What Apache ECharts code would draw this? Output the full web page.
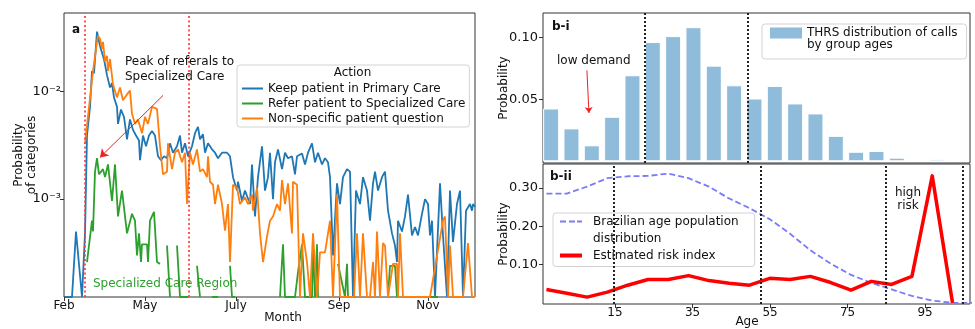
<!DOCTYPE html>
<html>
<head>
<meta charset="utf-8">
<script src="https://cdn.jsdelivr.net/npm/echarts@6/dist/echarts.min.js"></script>
<style>
html, body { margin: 0; background: #fff; }
#main { width: 975px; height: 329px; }
</style>
</head>
<body>
<div id="main"></div>
<script>
// ---- panel a: daily share of each action (x = day index, y = probability, 0 = none that day)
var monthNames = ['Feb', 'May', 'July', 'Sep', 'Nov'];
var monthDays = [0, 81, 172, 275, 364];

var keepPrimary = [[1,0],[8,0],[12,5.0e-4],[18,0],[21,4.8e-4],[23,3.9e-3],[26,7.2e-3],[28,1.55e-2],[30,1.48e-2],[33,3.6e-2],[36,2.65e-2],[38,2.75e-2],[40,2.0e-2],[43,1.42e-2],[46,1.09e-2],[48,1.2e-2],[50,8.8e-3],[53,7.2e-3],[54,5.0e-3],[57,6.8e-3],[60,5.8e-3],[63,3.6e-3],[66,5.5e-3],[69,4.4e-3],[72,3.9e-3],[75,3.5e-3],[76,2.3e-3],[79,3.9e-3],[82,3.1e-3],[85,3.9e-3],[88,4.3e-3],[91,3.9e-3],[94,2.5e-3],[97,2.3e-3],[100,2.5e-3],[103,2.4e-3],[106,3.3e-3],[109,2.7e-3],[113,3.1e-3],[116,3.9e-3],[118,2.7e-3],[121,3.3e-3],[124,2.5e-3],[128,3.1e-3],[131,4.1e-3],[134,4.7e-3],[136,3.6e-3],[139,4.0e-3],[141,2.7e-3],[144,3.3e-3],[148,2.9e-3],[151,2.7e-3],[154,2.4e-3],[158,2.7e-3],[163,2.7e-3],[166,2.5e-3],[169,1.6e-3],[173,1.2e-3],[174,1.45e-3],[178,9.6e-4],[181,1.2e-3],[186,9.0e-4],[188,2.1e-3],[191,6.9e-4],[194,1.6e-3],[198,3.1e-3],[201,1.2e-3],[204,1.6e-3],[206,2.7e-3],[209,1.0e-3],[211,2.2e-3],[214,2.9e-3],[218,1.9e-3],[221,2.7e-3],[224,2.4e-3],[228,2.5e-3],[231,1.7e-3],[233,2.5e-3],[238,2.65e-3],[241,2.1e-3],[244,2.7e-3],[248,3.3e-3],[251,2.2e-3],[254,2.7e-3],[258,2.1e-3],[261,2.4e-3],[264,2.2e-3],[266,1.6e-3],[269,3.0e-4],[273,1.4e-3],[276,9.0e-4],[279,1.6e-3],[283,1.9e-3],[286,1.8e-3],[289,0],[292,1.2e-3],[296,9.0e-4],[299,1.6e-3],[303,1.2e-3],[306,6.3e-4],[309,1.4e-3],[311,1.8e-3],[314,1.2e-3],[318,1.6e-3],[321,1.8e-3],[324,7.8e-4],[328,4.8e-4],[331,3.7e-4],[333,2.6e-4],[334,6.3e-4],[338,5.0e-4],[341,6.9e-4],[344,1.1e-3],[348,4.6e-4],[351,5.5e-4],[354,4.6e-4],[358,7.3e-4],[361,1.0e-3],[364,9.0e-4],[366,4.6e-4],[368,6.3e-4],[371,0],[376,1.4e-3],[379,4.6e-4],[383,0],[386,1.2e-3],[389,4.0e-4],[393,9.0e-4],[396,1.2e-3],[399,0],[402,7.8e-4],[404,7.8e-4],[406,9.0e-4],[408,7.8e-4],[409,9.0e-4],[411,8.5e-4]];

var referSpecial = [[23,2.6e-4],[28,6.3e-4],[29,5.0e-4],[31,1.8e-3],[33,2.4e-3],[35,1.7e-3],[39,1.9e-3],[41,1.6e-3],[44,2.1e-3],[48,9.6e-4],[51,2.1e-3],[54,6.9e-4],[58,1.2e-3],[63,4.8e-4],[65,5.0e-4],[68,7.3e-4],[71,6.3e-4],[73,3.0e-4],[75,4.8e-4],[77,2.6e-4],[78,3.8e-4],[83,3.8e-4],[84,2.6e-4],[86,6.3e-4],[90,7.6e-4],[93,2.6e-4],[96,2.5e-4],[98,null],[103,3.7e-4],[106,0],[107,null],[113,3.7e-4],[116,0],[124,0],[125,null],[133,2.4e-4],[136,0],[137,null],[148,0],[154,0],[155,null],[166,2.4e-4],[168,0],[171,0],[172,null],[216,0],[219,3.8e-4],[221,0],[231,0],[234,2.1e-4],[238,3.8e-4],[241,0],[248,0],[249,3.8e-4],[251,0],[253,3.8e-4],[254,0],[256,null],[274,2.5e-4],[281,0],[283,2.5e-4],[284,0],[291,0],[293,null],[324,0],[326,2.4e-4],[331,2.4e-4],[333,0],[335,null],[348,0],[374,0]];

var nonSpecific = [[21,3.3e-3],[29,1.55e-2],[33,2.9e-2],[34,3.3e-2],[36,3.1e-2],[38,2.5e-2],[39,2.9e-2],[41,1.9e-2],[43,2.15e-2],[44,1.55e-2],[46,2.0e-2],[49,1.16e-2],[53,8.8e-3],[56,1.09e-2],[59,8.3e-3],[63,9.4e-3],[66,1.02e-2],[68,6.2e-3],[71,5.0e-3],[74,5.5e-3],[78,4.1e-3],[81,5.8e-3],[84,5.0e-3],[88,7.2e-3],[93,6.9e-3],[96,3.1e-3],[99,1.7e-3],[103,1.8e-3],[104,3.3e-3],[108,1.9e-3],[111,2.7e-3],[114,2.9e-3],[118,2.2e-3],[121,2.7e-3],[123,9.0e-4],[126,2.7e-3],[129,2.1e-3],[133,2.9e-3],[136,1.8e-3],[139,1.9e-3],[143,1.6e-3],[144,2.5e-3],[146,1.45e-3],[149,1.36e-3],[151,9.0e-4],[154,1.36e-3],[158,9.0e-4],[161,5.1e-4],[164,9.0e-4],[166,2.6e-4],[169,1.36e-3],[173,1.28e-3],[176,9.0e-4],[181,1.04e-3],[184,9.0e-4],[188,1.1e-3],[189,7.8e-4],[193,1.28e-3],[196,4.8e-4],[199,2.6e-4],[203,4.5e-4],[206,6.3e-4],[209,6.9e-4],[213,9.0e-4],[216,7.8e-4],[218,1.5e-3],[221,9.0e-4],[224,1.4e-3],[228,4.8e-4],[229,1.45e-3],[233,1.36e-3],[236,0],[239,4.8e-4],[243,2.6e-4],[246,0],[249,4.8e-4],[253,0],[256,3.2e-4],[261,3.2e-4],[266,6.3e-4],[269,0],[273,1.1e-3],[276,0],[290,0],[293,4.8e-4],[296,0],[299,4.8e-4],[303,0],[306,0],[309,2.6e-4],[311,0],[313,5.0e-4],[316,0],[319,3.9e-4],[321,3.7e-4],[324,0],[329,2.5e-4],[333,2.5e-4],[334,0],[336,4.8e-4],[339,0],[366,0],[379,6.3e-4],[381,6.9e-4],[384,0],[386,3.7e-4],[389,0],[399,0],[404,3.9e-4],[408,0],[411,0]];

// ---- panel b-i: calls by age group (20 groups)
var callsByAge = [0.0427, 0.0266, 0.0129, 0.036, 0.0696, 0.0965, 0.1013, 0.1085, 0.0774, 0.0615,
                  0.0508, 0.061, 0.0468, 0.0387, 0.0206, 0.0077, 0.0083, 0.0029, 0.0010, 0.0019];

// ---- panel b-ii: population share and risk index per age group
var brazilPop = [0.285, 0.285, 0.303, 0.325, 0.330, 0.331, 0.337, 0.325, 0.303, 0.272, 0.247,
                 0.218, 0.18, 0.137, 0.102, 0.073, 0.052, 0.035, 0.018, 0.006, 0.0, 0.0];
var riskIndex = [0.035, 0.025, 0.015, 0.028, 0.046, 0.061, 0.061, 0.071, 0.058, 0.051, 0.046,
                 0.064, 0.061, 0.069, 0.053, 0.033, 0.056, 0.048, 0.069, 0.331, 0.0];
var ageTicks = [15, 35, 55, 75, 95];

var FONT = 'DejaVu Sans';
var INK = '#111';
// panel a is drawn on log10 of the probability
var logMinA = -3.91, logMaxA = -1.27;
var decadeTicks = [-3, -2];
var supExp = {'-1': '⁻¹', '-2': '⁻²', '-3': '⁻³', '-4': '⁻⁴'};

function toLog(arr) {
    // zero days sit on the bottom of the axis, null stays a gap
    return arr.map(function (p) {
        if (p[1] === null) return [p[0], '-'];
        return [p[0], p[1] === 0 ? logMinA : Math.log10(p[1])];
    });
}
function indexed(arr) {
    return arr.map(function (v, i) { return [i, v]; });
}

var keepName = 'Keep patient in Primary Care';
var referName = 'Refer patient to Specialized Care';
var nonName = 'Non-specific patient question';
var barName = 'THRS distribution of calls by group ages';
var popName = 'Brazilian age population distribution';
var riskName = 'Estimated risk index';

var dotted = { color: '#222', width: 2, type: [2, 2] };
var axisText = { color: INK, fontFamily: FONT };
var noLine = { show: false, onZero: false };
var lineIcon = 'path://M0,0L0.1,0L0.1,0.1ZM0,6.5L21,6.5L21,8.5L0,8.5ZM21,15L20.9,15L20.9,14.9Z';

var myChart = echarts.init(document.getElementById('main'));

var option = {
    animation: false,
    backgroundColor: '#fff',
    textStyle: { fontFamily: FONT, color: INK },
    grid: [
        { left: 64, top: 13, width: 411, height: 293, show: true, borderColor: '#333', borderWidth: 1 },
        { left: 543, top: 13, width: 427, height: 150, show: true, borderColor: '#333', borderWidth: 1 },
        { left: 543, top: 164, width: 427, height: 143, show: true, borderColor: '#333', borderWidth: 1 }
    ],
    xAxis: [
        {
            gridIndex: 0, type: 'value', min: 0, max: 411,
            name: 'Month', nameLocation: 'middle', nameGap: 15, nameMoveOverlap: false,
            nameTextStyle: { fontSize: 12, color: INK, padding: [0, 0, 0, 27] },
            axisLine: noLine, splitLine: { show: false },
            axisTick: { customValues: monthDays, length: 4, lineStyle: { color: '#333' } },
            axisLabel: Object.assign({
                customValues: monthDays, fontSize: 12, margin: 3,
                formatter: function (v) { return monthNames[monthDays.indexOf(v)]; }
            }, axisText)
        },
        { gridIndex: 1, type: 'value', min: -0.4, max: 20.6, show: false, axisLine: noLine },
        {
            gridIndex: 2, type: 'value', min: -3.58, max: 106.6,
            name: 'Age', nameLocation: 'middle', nameGap: 12, nameMoveOverlap: false,
            nameTextStyle: { fontSize: 12, color: INK, padding: [0, 19, 0, 0] },
            axisLine: noLine, splitLine: { show: false },
            axisTick: { customValues: ageTicks, length: 4, lineStyle: { color: '#333' } },
            axisLabel: Object.assign({ customValues: ageTicks, fontSize: 12, margin: 3 }, axisText)
        },
        { gridIndex: 2, type: 'value', min: -0.17, max: 20.86, show: false, axisLine: noLine }
    ],
    yAxis: [
        {
            gridIndex: 0, type: 'value', min: logMinA, max: logMaxA,
            name: 'Probability\nof categories', nameLocation: 'middle', nameRotate: 90, nameGap: 26,
            nameMoveOverlap: false,
            nameTextStyle: { fontSize: 12, lineHeight: 13, color: INK },
            axisLine: noLine, splitLine: { show: false },
            axisTick: { customValues: decadeTicks, length: 4, lineStyle: { color: '#333' } },
            axisLabel: Object.assign({
                customValues: decadeTicks, fontSize: 13, margin: 3,
                formatter: function (v) { return '10' + supExp[String(Math.round(v))]; }
            }, axisText)
        },
        {
            gridIndex: 1, type: 'value', min: -0.0014, max: 0.12,
            name: 'Probability', nameLocation: 'middle', nameRotate: 90, nameGap: 33, nameMoveOverlap: false,
            nameTextStyle: { fontSize: 12, color: INK },
            axisLine: noLine, splitLine: { show: false },
            axisTick: { customValues: [0.05, 0.1], length: 4, lineStyle: { color: '#333' } },
            axisLabel: Object.assign({
                customValues: [0.05, 0.1], fontSize: 13, margin: 5,
                formatter: function (v) { return v.toFixed(2); }
            }, axisText)
        },
        {
            gridIndex: 2, type: 'value', min: -0.003, max: 0.362,
            name: 'Probability', nameLocation: 'middle', nameRotate: 90, nameGap: 33, nameMoveOverlap: false,
            nameTextStyle: { fontSize: 12, color: INK },
            axisLine: noLine, splitLine: { show: false },
            axisTick: { customValues: [0.1, 0.2, 0.3], length: 4, lineStyle: { color: '#333' } },
            axisLabel: Object.assign({
                customValues: [0.1, 0.2, 0.3], fontSize: 13, margin: 5,
                formatter: function (v) { return v.toFixed(2); }
            }, axisText)
        }
    ],
    legend: [
        {
            data: [
                { name: keepName, icon: lineIcon },
                { name: referName, icon: lineIcon },
                { name: nonName, icon: lineIcon }
            ],
            orient: 'vertical', left: 237, top: 65,
            padding: [16, 4, 1, 5], itemGap: 0, itemWidth: 21, itemHeight: 15,
            selectedMode: false, itemStyle: { borderWidth: 0 },
            textStyle: { fontSize: 12, lineHeight: 15, color: INK },
            backgroundColor: 'rgba(255,255,255,0.8)', borderColor: '#d3d3d3', borderWidth: 1, borderRadius: 3
        },
        {
            data: [{ name: barName, icon: 'path://M0,0L0.1,0L0.1,0.1ZM0,0.5L32,0.5L32,11.5L0,11.5ZM32,24L31.9,24L31.9,23.9Z' }],
            orient: 'vertical', left: 762, top: 24,
            padding: [3, 9, 8, 8], itemWidth: 32, itemHeight: 24,
            selectedMode: false, itemStyle: { borderWidth: 0 },
            formatter: function () { return 'THRS distribution of calls\nby group ages'; },
            textStyle: { fontSize: 12, lineHeight: 12, color: INK },
            backgroundColor: 'rgba(255,255,255,0.8)', borderColor: '#d3d3d3', borderWidth: 1, borderRadius: 3
        },
        {
            data: [
                { name: popName, icon: 'path://M0,0L0.1,0L0.1,0.1ZM0,1.5L6,1.5L6,3.5L0,3.5ZM9,1.5L15,1.5L15,3.5L9,3.5ZM17,1.5L22,1.5L22,3.5L17,3.5ZM28,22L27.9,22L27.9,21.9Z' },
                { name: riskName, icon: 'path://M0,0L0.1,0L0.1,0.1ZM0,9L22,9L22,13L0,13ZM28,22L27.9,22L27.9,21.9Z' }
            ],
            orient: 'vertical', left: 553, top: 213,
            padding: [0, 16, 0, 7], itemGap: -2.5, itemWidth: 28, itemHeight: 22,
            selectedMode: false, itemStyle: { borderWidth: 0 },
            formatter: function (name) { return name === popName ? 'Brazilian age population\ndistribution' : name; },
            textStyle: { fontSize: 12, lineHeight: 17, color: INK },
            backgroundColor: 'rgba(255,255,255,0.8)', borderColor: '#d3d3d3', borderWidth: 1, borderRadius: 3
        }
    ],
    series: [
        {
            name: keepName, type: 'line', xAxisIndex: 0, yAxisIndex: 0,
            data: toLog(keepPrimary), symbol: 'none',
            itemStyle: { color: '#1f77b4' }, lineStyle: { color: '#1f77b4', width: 1.8 }
        },
        {
            name: referName, type: 'line', xAxisIndex: 0, yAxisIndex: 0,
            data: toLog(referSpecial), symbol: 'none', connectNulls: false,
            itemStyle: { color: '#2ca02c' }, lineStyle: { color: '#2ca02c', width: 1.8 },
            markLine: {
                silent: true, symbol: ['none', 'none'], label: { show: false },
                lineStyle: { color: 'rgba(255,60,60,0.85)', width: 2, type: [2, 2.5] },
                data: [{ xAxis: 21 }, { xAxis: 125 }]
            }
        },
        {
            name: nonName, type: 'line', xAxisIndex: 0, yAxisIndex: 0,
            data: toLog(nonSpecific), symbol: 'none',
            itemStyle: { color: '#ff7f0e' }, lineStyle: { color: '#ff7f0e', width: 1.8 },
            markLine: {
                silent: true, symbol: ['none', 'arrow'], symbolSize: 8, label: { show: false },
                lineStyle: { color: '#ee2222', width: 1, type: 'solid' },
                data: [[{ coord: [99, Math.log10(9.2e-3)] }, { coord: [36, Math.log10(2.44e-3)] }]]
            }
        },
        {
            name: barName, type: 'bar', xAxisIndex: 1, yAxisIndex: 1,
            data: indexed(callsByAge), barWidth: 16,
            itemStyle: { color: '#8fbcdb', borderColor: '#fff', borderWidth: 1 },
            markLine: {
                silent: true, symbol: ['none', 'none'], label: { show: false },
                lineStyle: dotted,
                data: [
                    { xAxis: 4.62 }, { xAxis: 9.68 },
                    [{ coord: [1.76, 0.0736], symbol: 'none', lineStyle: { color: '#ee2222', width: 1, type: 'solid' } },
                     { coord: [1.86, 0.039], symbol: 'arrow', symbolSize: 6 }]
                ]
            }
        },
        {
            name: popName, type: 'line', xAxisIndex: 3, yAxisIndex: 2,
            data: indexed(brazilPop), symbol: 'none',
            itemStyle: { color: '#7b7bf7' }, lineStyle: { color: '#7b7bf7', width: 1.8, type: [6, 3] }
        },
        {
            name: riskName, type: 'line', xAxisIndex: 3, yAxisIndex: 2,
            data: indexed(riskIndex), symbol: 'none',
            itemStyle: { color: '#ff0000' }, lineStyle: { color: '#ff0000', width: 3.5, join: 'round' },
            markLine: {
                silent: true, symbol: ['none', 'none'], label: { show: false },
                lineStyle: dotted,
                data: [{ xAxis: 3.33 }, { xAxis: 10.57 }, { xAxis: 16.72 }, { xAxis: 20.52 }]
            }
        }
    ],
    graphic: [
        { type: 'text', z: 100, x: 72, y: 30, style: { text: 'a', fontSize: 12, fontWeight: 'bold', fontFamily: FONT, fill: INK, verticalAlign: 'middle' } },
        { type: 'text', z: 100, x: 125, y: 54, style: { text: 'Peak of referals to\nSpecialized Care', fontSize: 12, lineHeight: 15, fontFamily: FONT, fill: INK } },
        { type: 'text', z: 100, x: 93, y: 284, style: { text: 'Specialized Care Region', fontSize: 12, fontFamily: FONT, fill: '#2ca02c', verticalAlign: 'middle' } },
        { type: 'text', z: 100, x: 352.5, y: 73, style: { text: 'Action', fontSize: 12, fontFamily: FONT, fill: INK, align: 'center', verticalAlign: 'middle' } },
        { type: 'text', z: 100, x: 552, y: 27, style: { text: 'b-i', fontSize: 12, fontWeight: 'bold', fontFamily: FONT, fill: INK, verticalAlign: 'middle' } },
        { type: 'text', z: 100, x: 557, y: 61, style: { text: 'low demand', fontSize: 12, fontFamily: FONT, fill: INK, verticalAlign: 'middle' } },
        { type: 'text', z: 100, x: 550, y: 177, style: { text: 'b-ii', fontSize: 12, fontWeight: 'bold', fontFamily: FONT, fill: INK, verticalAlign: 'middle' } },
        { type: 'text', z: 100, x: 908, y: 186, style: { text: 'high\nrisk', fontSize: 12, lineHeight: 13, fontFamily: FONT, fill: INK, align: 'center' } }
    ]
};
myChart.setOption(option);

window.addEventListener('resize', function () {
    myChart.resize();
});
</script>
</body>
</html>
